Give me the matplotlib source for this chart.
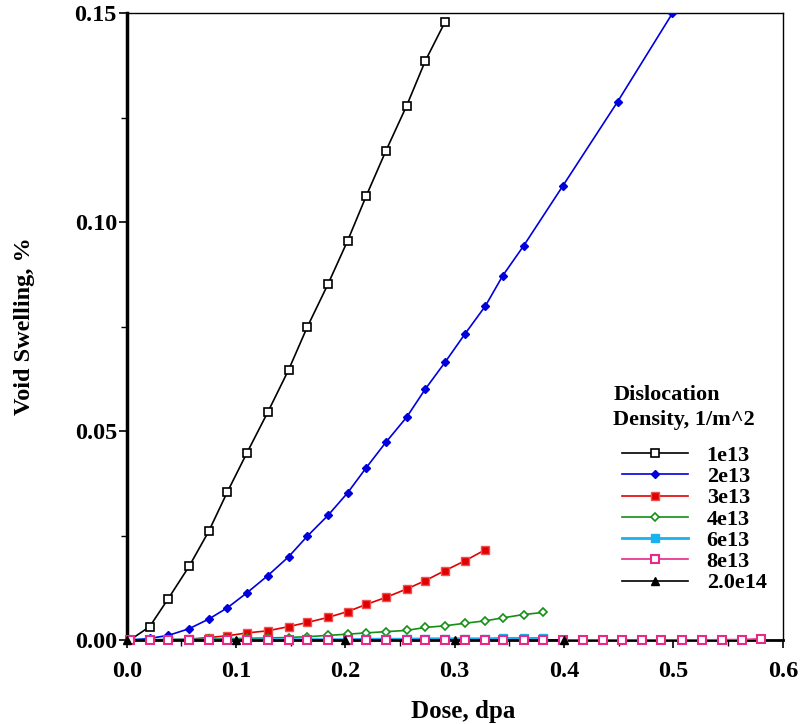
import matplotlib
matplotlib.use("Agg")
import matplotlib.pyplot as plt
from matplotlib.ticker import MultipleLocator, FormatStrFormatter

plt.rcParams['font.family'] = ['Liberation Serif', 'DejaVu Serif']
plt.rcParams['font.weight'] = 'bold'

# dose grid shared by most runs (dpa)
dose = [0.003, 0.021, 0.038, 0.057, 0.075, 0.092, 0.110, 0.129, 0.148, 0.165,
        0.184, 0.202, 0.219, 0.237, 0.256, 0.273, 0.291, 0.309, 0.328, 0.344,
        0.363, 0.381, 0.399, 0.417, 0.436, 0.453, 0.471, 0.489, 0.508, 0.526,
        0.544, 0.563, 0.580]

sw_1e13 = [0.0, 0.0032, 0.0099, 0.0176, 0.0260, 0.0354, 0.0448, 0.0545, 0.0646,
           0.0748, 0.0851, 0.0955, 0.1062, 0.1170, 0.1278, 0.1385, 0.1478]

dose_2e13 = dose[:21] + [0.399, 0.449, 0.499]
sw_2e13 = [0.0, 0.0004, 0.0011, 0.0027, 0.0050, 0.0077, 0.0113, 0.0154, 0.0199,
           0.0248, 0.0298, 0.0352, 0.0412, 0.0473, 0.0533, 0.0600, 0.0664, 0.0731,
           0.0799, 0.0872, 0.0943, 0.1087, 0.1288, 0.1499]

sw_3e13 = [0.0, 0.0, 0.0001, 0.0002, 0.0006, 0.0010, 0.0017, 0.0022, 0.0032,
           0.0042, 0.0054, 0.0068, 0.0085, 0.0102, 0.0122, 0.0142, 0.0166, 0.0189,
           0.0216]

sw_4e13 = [0.0, 0.0, 0.0001, 0.0001, 0.0002, 0.0003, 0.0004, 0.0005, 0.0006,
           0.0008, 0.0011, 0.0014, 0.0017, 0.0020, 0.0023, 0.0030, 0.0034, 0.0040,
           0.0046, 0.0053, 0.0061, 0.0066]

sw_6e13 = [0.0, 0.0, 0.0, 0.0, 0.0, 0.0, 0.0, 0.0001, 0.0001, 0.0001, 0.0001,
           0.0001, 0.0002, 0.0002, 0.0002, 0.0003, 0.0003, 0.0003, 0.0003, 0.0004,
           0.0004, 0.0004]

sw_8e13 = [0.0, 0.0, 0.0, 0.0, 0.0, 0.0, 0.0, 0.0, 0.0, 0.0, 0.0, 0.0, 0.0, 0.0,
           0.0, 0.0, 0.0, 0.0, 0.0, 0.0, 0.0, 0.0, 0.0, 0.0, 0.0, 0.0, 0.0, 0.0,
           0.0, 0.0, 0.0001, 0.0001, 0.0003]

dose_2e14 = [0.0, 0.1, 0.2, 0.3, 0.4]
sw_2e14 = [0.0, 0.0, 0.0, 0.0, 0.0]

labels = ['1e13', '2e13', '3e13', '4e13', '6e13', '8e13', '2.0e14']

fig = plt.figure(figsize=(8.02, 7.24), dpi=100)
ax = fig.add_axes([0.158, 0.116, 0.818, 0.866])

lw = 1.2
h1, = ax.plot(dose[:len(sw_1e13)], sw_1e13, color='black', lw=lw, marker='s',
              ms=5.5, mfc='white', mec='black', mew=1.2, zorder=3)
h2, = ax.plot(dose_2e13, sw_2e13, color='#0000dd', lw=lw, marker='D', ms=4.5,
              mfc='#0000dd', mec='#0000dd', zorder=3)
h3, = ax.plot(dose[:len(sw_3e13)], sw_3e13, color='#e00000', lw=lw, marker='s',
              ms=5.5, mfc='#e00000', mec='#f05050', zorder=3)
h4, = ax.plot(dose[:len(sw_4e13)], sw_4e13, color='#149014', lw=lw, marker='D',
              ms=4.5, mfc='white', mec='#149014', mew=1.2, zorder=3)
h5, = ax.plot(dose[:len(sw_6e13)], sw_6e13, color='#1ab2ee', lw=2, marker='s',
              ms=6, mfc='#1ab2ee', mec='#1ab2ee', zorder=3)
ax.plot(dose, sw_8e13, color='#e8288a', lw=lw, zorder=3)
ax.plot(dose_2e14, sw_2e14, color='black', lw=2, zorder=4)
ax.plot(dose, sw_8e13, ls='none', marker='s', ms=6, mfc='white',
        mec='#e8288a', mew=1.5, zorder=5, clip_on=False)
ax.plot(dose_2e14, sw_2e14, ls='none', marker='^', ms=6, color='black',
        zorder=6, clip_on=False)
h6 = plt.Line2D([], [], color='#e8288a', lw=lw, marker='s', ms=6, mfc='white',
                mec='#e8288a', mew=1.5)
h7 = plt.Line2D([], [], color='black', lw=lw, marker='^', ms=6)

ax.set_xlim(0, 0.6)
ax.set_ylim(0, 0.15)
ax.xaxis.set_major_locator(MultipleLocator(0.1))
ax.xaxis.set_minor_locator(MultipleLocator(0.05))
ax.yaxis.set_major_locator(MultipleLocator(0.05))
ax.yaxis.set_minor_locator(MultipleLocator(0.025))
ax.xaxis.set_major_formatter(FormatStrFormatter('%.1f'))
ax.yaxis.set_major_formatter(FormatStrFormatter('%.2f'))
ax.tick_params(axis='both', which='major', direction='out', length=6,
               width=1.2, labelsize=17.5)
ax.tick_params(axis='y', which='major', pad=1)
ax.tick_params(axis='x', which='major', pad=9)
ax.tick_params(axis='both', which='minor', direction='out', length=4, width=1.0)
for t in ax.get_xticklabels() + ax.get_yticklabels():
    t.set_fontweight('bold')

ax.spines['left'].set_linewidth(2.5)
ax.spines['bottom'].set_linewidth(2.0)
ax.spines['top'].set_linewidth(1.0)
ax.spines['right'].set_linewidth(1.0)

ax.set_xlabel('Dose, dpa', fontsize=18, fontweight='bold')
ax.xaxis.set_label_coords(0.513, -0.095)
ax.set_ylabel('Void Swelling, %', fontsize=17.5, fontweight='bold')
ax.yaxis.set_label_coords(-0.14, 0.5)

ax.text(0.742, 0.407, 'Dislocation\nDensity, 1/m^2', transform=ax.transAxes,
        ha='left', va='top', fontsize=16, fontweight='bold', linespacing=1.33)

leg = ax.legend([h1, h2, h3, h4, h5, h6, h7], labels, loc='upper left',
                bbox_to_anchor=(0.7546, 0.3104), frameon=False, numpoints=1,
                handlelength=2.97, handletextpad=0.85, labelspacing=0.03,
                borderpad=0, borderaxespad=0, fontsize=16)
for t in leg.get_texts():
    t.set_fontweight('bold')

fig.savefig('out.png', dpi=100)
